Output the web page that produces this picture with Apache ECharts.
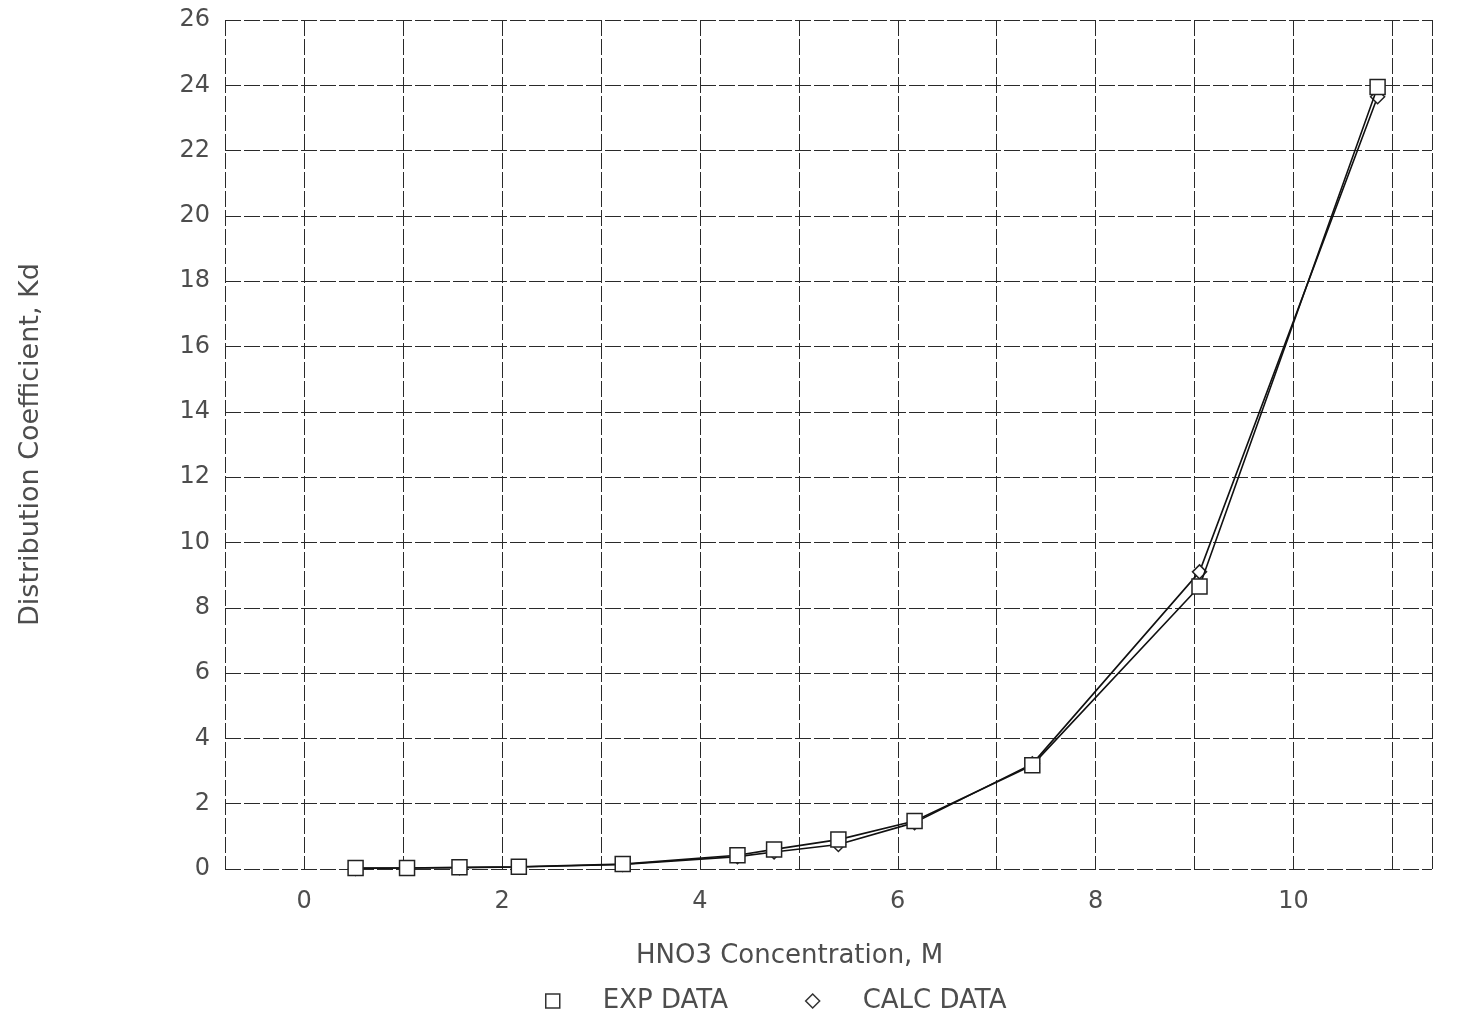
<!DOCTYPE html>
<html>
<head>
<meta charset="utf-8">
<script src="https://cdn.jsdelivr.net/npm/echarts@6/dist/echarts.min.js"></script>
<style>
html,body{margin:0;padding:0;background:#fff;}
#chart{width:1460px;height:1016px;}
</style>
</head>
<body>
<div id="chart"></div>
<script>
// HNO3 concentration (M) of the measured points
const hno3 = [0.52, 1.04, 1.57, 2.17, 3.22, 4.38, 4.75, 5.40, 6.17, 7.36, 9.05, 10.85];
// Experimental distribution coefficients
const expKd = [0.03, 0.03, 0.05, 0.07, 0.15, 0.42, 0.60, 0.90, 1.47, 3.18, 8.65, 23.95];
// Calculated distribution coefficients
const calcKd = [0.02, 0.03, 0.04, 0.06, 0.14, 0.38, 0.52, 0.75, 1.42, 3.22, 9.10, 23.65];
// Tick labels shown on the x axis
const xTickLabels = [0, 2, 4, 6, 8, 10];
const seriesNames = ['EXP DATA', 'CALC DATA'];

const FONT = 'DejaVu Sans';
const TXT = '#4d4d4d';
const gridLine = {show: true, lineStyle: {color: '#2a2a2a', width: 1, type: [16, 3]}};

const chart = echarts.init(document.getElementById('chart'));
chart.setOption({
  animation: false,
  backgroundColor: '#fff',
  grid: {left: 225, right: 28, top: 20, bottom: 147, containLabel: false},
  xAxis: {
    type: 'value', min: -0.8, max: 11.4, splitNumber: 12,
    name: 'HNO3 Concentration, M', nameLocation: 'middle', nameGap: 74,
    nameTextStyle: {fontFamily: FONT, fontSize: 26, color: TXT, padding: [0, 78, 0, 0]},
    axisLine: {show: false}, axisTick: {show: false},
    axisLabel: {
      margin: 21, fontFamily: FONT, fontSize: 24, color: TXT,
      showMinLabel: false, showMaxLabel: false,
      formatter: v => xTickLabels.includes(v) ? String(v) : ''
    },
    splitLine: gridLine
  },
  yAxis: {
    type: 'value', min: 0, max: 26, interval: 2,
    name: 'Distribution Coefficient, Kd', nameLocation: 'middle', nameGap: 181,
    nameTextStyle: {fontFamily: FONT, fontSize: 27, color: TXT},
    axisLine: {show: false}, axisTick: {show: false},
    axisLabel: {margin: 15, fontFamily: FONT, fontSize: 24, color: TXT},
    splitLine: gridLine
  },
  legend: {
    left: 540, top: 983, itemWidth: 14, itemHeight: 14, itemGap: 77,
    data: [{name: seriesNames[0], icon: 'rect'}, {name: seriesNames[1], icon: 'diamond'}],
    itemStyle: {color: '#fff', borderColor: '#333', borderWidth: 1.5},
    textStyle: {fontFamily: FONT, fontSize: 26, color: TXT, padding: [0, 0, 0, 38]}
  },
  series: [
    {
      name: seriesNames[0], type: 'line',
      data: hno3.map((x, i) => [x, expKd[i]]),
      symbol: 'rect', symbolSize: 15,
      itemStyle: {color: '#fff', borderColor: '#222', borderWidth: 1.5},
      lineStyle: {color: '#111', width: 1.6},
      z: 3
    },
    {
      name: seriesNames[1], type: 'line',
      data: hno3.map((x, i) => [x, calcKd[i]]),
      symbol: 'diamond', symbolSize: 14,
      itemStyle: {color: '#fff', borderColor: '#222', borderWidth: 1.5},
      lineStyle: {color: '#111', width: 1.6},
      z: 2
    }
  ]
});
</script>
</body>
</html>
